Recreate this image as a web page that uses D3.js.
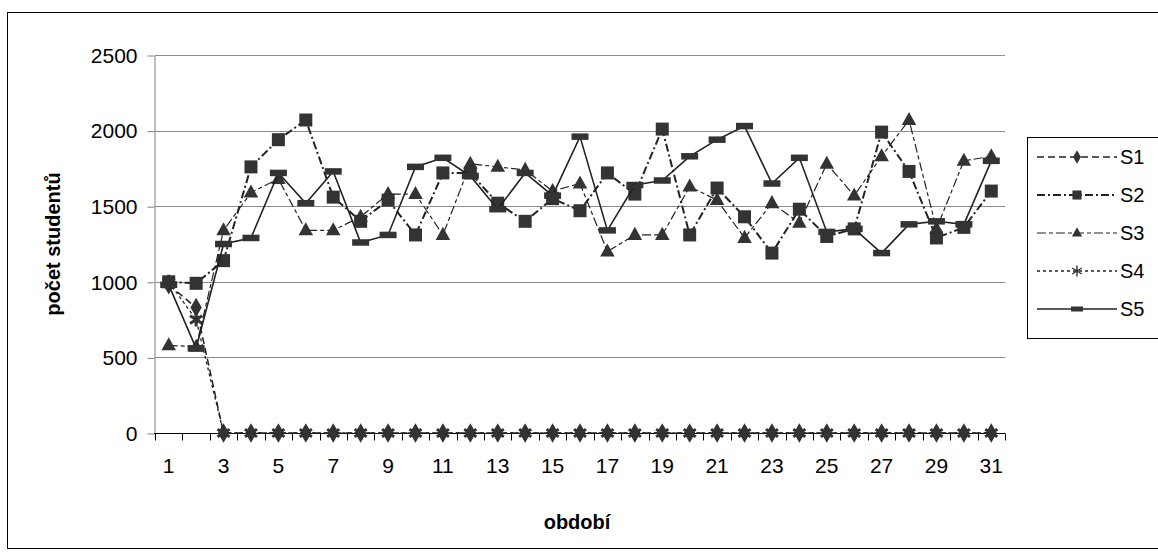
<!DOCTYPE html>
<html><head><meta charset="utf-8">
<script src="https://cdn.jsdelivr.net/npm/d3@7"></script>
<style>body{margin:0;background:#fff}svg{display:block}text{font-family:"Liberation Sans",Arial,sans-serif}</style>
</head><body><svg id="c" width="1158" height="556"></svg>
<script>
const categories = d3.range(1, 32);
const xTickLabels = categories.filter(d => d % 2 === 1);
const yTicks = [0, 500, 1000, 1500, 2000, 2500];
const seriesNames = ["S1", "S2", "S3", "S4", "S5"];
const S1 = [980, 830, 0,0,0,0,0,0,0,0,0,0,0,0,0,0,0,0,0,0,0,0,0,0,0,0,0,0,0,0,0];
const S2 = [1000, 990, 1140, 1760, 1940, 2070, 1560, 1400, 1540, 1310, 1720, 1720, 1520, 1400, 1550, 1470, 1720, 1580, 2010, 1310, 1620, 1430, 1190, 1480, 1300, 1350, 1990, 1730, 1290, 1360, 1600];
const S3 = [580, 570, 1340, 1590, 1680, 1340, 1340, 1430, 1580, 1580, 1310, 1780, 1760, 1740, 1600, 1650, 1200, 1310, 1310, 1630, 1540, 1290, 1520, 1390, 1780, 1570, 1830, 2070, 1350, 1800, 1830];
const S4 = [1000, 750, 0,0,0,0,0,0,0,0,0,0,0,0,0,0,0,0,0,0,0,0,0,0,0,0,0,0,0,0,0];
const S5 = [980, 560, 1250, 1290, 1720, 1520, 1730, 1260, 1310, 1760, 1820, 1700, 1480, 1720, 1570, 1960, 1340, 1640, 1670, 1830, 1940, 2030, 1650, 1820, 1330, 1350, 1190, 1380, 1400, 1380, 1800];
const seriesValues = [S1, S2, S3, S4, S5];

const svg = d3.select("#c");
const L = 155, R = 1005, T = 55, B = 433;
const band = d3.scaleBand().domain(categories).range([L, R]);
const x = d3.scalePoint().domain(categories).range([L, R]).padding(0.5);
const y = d3.scaleLinear().domain([0, 2500]).range([B, T]);
const ink = "#222", fillC = "#333";
const FS = 20, TFS = 21;

// outer frame
svg.append("rect").attr("x", 7.5).attr("y", 12.5).attr("width", 1160).attr("height", 536)
  .attr("fill", "none").attr("stroke", "#000").attr("stroke-width", 1);

// gridlines
svg.append("g").selectAll("line").data(yTicks.filter(d => d > 0)).join("line")
  .attr("x1", L).attr("x2", R).attr("y1", d => Math.round(y(d)) + 0.5).attr("y2", d => Math.round(y(d)) + 0.5)
  .attr("stroke", "#8c8c8c").attr("stroke-width", 1);

// y axis
const ya = svg.append("g").attr("transform", `translate(${L - 0.5},0.5)`)
  .call(d3.axisLeft(y).tickValues(yTicks).tickFormat(d3.format("d")).tickSize(7).tickPadding(10).tickSizeOuter(0));
ya.attr("font-size", TFS).attr("font-family", "Liberation Sans, Arial, sans-serif");
ya.select(".domain").attr("stroke", "#808080");
ya.selectAll(".tick line").attr("stroke", "#808080");
ya.selectAll("text").attr("fill", "#000");

// x axis (category boundaries as ticks)
const xa = svg.append("g").attr("transform", `translate(0,${B + 0.5})`);
xa.append("line").attr("x1", L - 1).attr("x2", R).attr("y1", 0).attr("y2", 0).attr("stroke", "#000");
const bounds = categories.map(c => band(c)).concat([R]);
xa.selectAll("line.t").data(bounds).join("line").attr("class", "t")
  .attr("x1", d => Math.round(d) + 0.5).attr("x2", d => Math.round(d) + 0.5).attr("y1", 0).attr("y2", 7)
  .attr("stroke", "#000");
xa.selectAll("text").data(xTickLabels).join("text")
  .attr("x", d => x(d)).attr("y", 39.5).attr("text-anchor", "middle").attr("font-size", TFS).text(d => d);

// axis titles
svg.append("text").attr("transform", "translate(60,244) rotate(-90)").attr("text-anchor", "middle")
  .attr("font-size", FS).attr("font-weight", "bold").text("počet studentů");
svg.append("text").attr("x", 577).attr("y", 529).attr("text-anchor", "middle")
  .attr("font-size", FS).attr("font-weight", "bold").text("období");

// styles
const styles = [
  {dash: "7,4", w: 1.5},
  {dash: "8,3,2,3", w: 2},
  {dash: "9,3,4,3", w: 1.2},
  {dash: "3,3", w: 1.3},
  {dash: null, w: 1.6}
];
function marker(g, i, big) {
  const s = big ? 1 : 0.7;
  if (i === 0) {
    g.append("path").attr("d", d3.symbol(d3.symbolDiamond, 110 * s * s)()).attr("fill", fillC);
  } else if (i === 1) {
    const a = 13 * s;
    g.append("rect").attr("x", -a / 2).attr("y", -a / 2).attr("width", a).attr("height", a).attr("fill", fillC);
  } else if (i === 2) {
    const a = 14.5 * s, h = a * 0.9;
    g.append("path").attr("d", `M0,${-h * 0.62}L${a / 2},${h * 0.38}L${-a / 2},${h * 0.38}Z`).attr("fill", fillC);
  } else if (i === 3) {
    const r = (big ? 7 : 5.5);
    g.append("path").attr("d", `M0,${-r}V${r}M${-r * 0.87},${-r * 0.55}L${r * 0.87},${r * 0.55}M${-r * 0.87},${r * 0.55}L${r * 0.87},${-r * 0.55}`)
      .attr("stroke", fillC).attr("stroke-width", big ? 3 : 1.4).attr("fill", "none");
  } else {
    const w = big ? 17 : 12, h = big ? 6.5 : 5;
    g.append("rect").attr("x", -w / 2).attr("y", -h / 2).attr("width", w).attr("height", h).attr("fill", fillC);
  }
}

const line = d3.line().x((d, i) => x(categories[i])).y(d => y(d));
seriesValues.forEach((vals, si) => {
  const g = svg.append("g");
  g.append("path").attr("d", line(vals)).attr("fill", "none").attr("stroke", ink)
    .attr("stroke-width", styles[si].w).attr("stroke-dasharray", styles[si].dash);
  vals.forEach((v, i) => {
    const mg = g.append("g").attr("transform", `translate(${x(categories[i])},${y(v)})`);
    marker(mg, si, true);
  });
});

// legend
const lg = svg.append("g");
lg.append("rect").attr("x", 1027.5).attr("y", 137.5).attr("width", 140).attr("height", 201)
  .attr("fill", "#fff").attr("stroke", "#000");
seriesNames.forEach((nm, i) => {
  const yy = 157 + i * 38;
  lg.append("line").attr("x1", 1037).attr("x2", 1117).attr("y1", yy).attr("y2", yy)
    .attr("stroke", ink).attr("stroke-width", styles[i].w).attr("stroke-dasharray", styles[i].dash);
  const mg = lg.append("g").attr("transform", `translate(1077,${yy})`);
  marker(mg, i, false);
  lg.append("text").attr("x", 1120).attr("y", yy + 7).attr("font-size", FS).text(nm);
});
</script></body></html>
